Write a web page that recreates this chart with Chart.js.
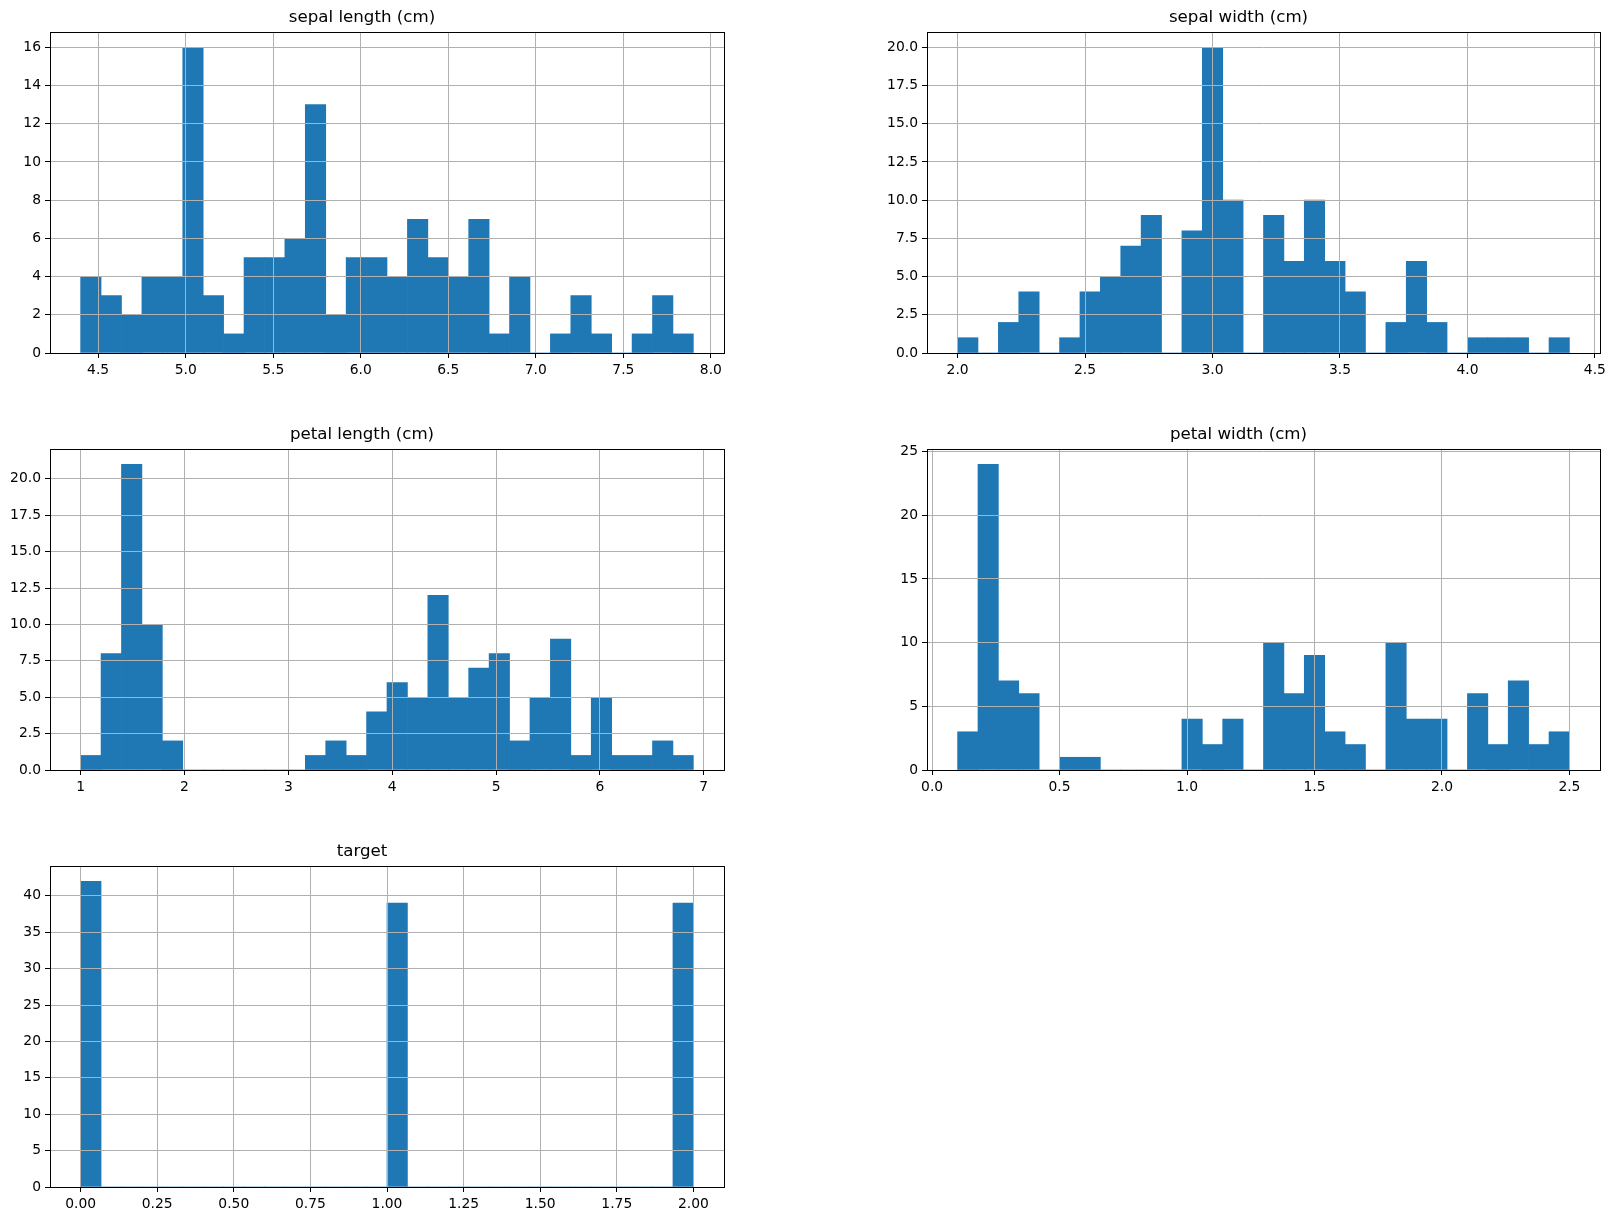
<!DOCTYPE html>
<html>
<head>
<meta charset="utf-8">
<script src="https://cdn.jsdelivr.net/npm/chart.js@4.4.0/dist/chart.umd.min.js"></script>
<style>
html,body{margin:0;padding:0;background:#fff;}
body{width:1616px;height:1221px;position:relative;overflow:hidden;}
canvas{position:absolute;}
</style>
</head>
<body>
<canvas id="c0"></canvas>
<canvas id="c1"></canvas>
<canvas id="c2"></canvas>
<canvas id="c3"></canvas>
<canvas id="c4"></canvas>
<script>
// ---- data (30 bins each, counts) ----
const sepalLengthRange = [4.4, 7.9];
const sepalLengthCounts = [4,3,2,4,4,16,3,1,5,5,6,13,2,5,5,4,7,5,4,7,1,4,0,1,3,1,0,1,3,1];
const sepalLengthXTicks = [4.5,5.0,5.5,6.0,6.5,7.0,7.5,8.0];
const sepalLengthYTicks = [0,2,4,6,8,10,12,14,16];

const sepalWidthRange = [2.0, 4.4];
const sepalWidthCounts = [1,0,2,4,0,1,4,5,7,9,0,8,20,10,0,9,6,10,6,4,0,2,6,2,0,1,1,1,0,1];
const sepalWidthXTicks = [2.0,2.5,3.0,3.5,4.0,4.5];
const sepalWidthYTicks = [0,2.5,5,7.5,10,12.5,15,17.5,20];

const petalLengthRange = [1.0, 6.9];
const petalLengthCounts = [1,8,21,10,2,0,0,0,0,0,0,1,2,1,4,6,5,12,5,7,8,2,5,9,1,5,1,1,2,1];
const petalLengthXTicks = [1,2,3,4,5,6,7];
const petalLengthYTicks = [0,2.5,5,7.5,10,12.5,15,17.5,20];

const petalWidthRange = [0.1, 2.5];
const petalWidthCounts = [3,24,7,6,0,1,1,0,0,0,0,4,2,4,0,10,6,9,3,2,0,10,4,4,0,6,2,7,2,3];
const petalWidthXTicks = [0.0,0.5,1.0,1.5,2.0,2.5];
const petalWidthYTicks = [0,5,10,15,20,25];

const targetRange = [0, 2];
const targetCounts = [42,0,0,0,0,0,0,0,0,0,0,0,0,0,0,39,0,0,0,0,0,0,0,0,0,0,0,0,0,39];
const targetXTicks = [0,0.25,0.5,0.75,1.0,1.25,1.5,1.75,2.0];
const targetYTicks = [0,5,10,15,20,25,30,35,40];

const titles = ['sepal length (cm)','sepal width (cm)','petal length (cm)','petal width (cm)','target'];

// ---- layout ----
const FONT = "'DejaVu Sans', sans-serif";
const Y_AXIS_W = 50, SIDE_PAD = 50, TITLE_H = 40, X_AXIS_H = 40;
const BAR_COLOR = '#1f77b4';

const panels = [
  {id:'c0', title:titles[0], range:sepalLengthRange, counts:sepalLengthCounts, xTicks:sepalLengthXTicks, yTicks:sepalLengthYTicks, xDec:1, yDec:0, left:50, top:32, w:674, h:321},
  {id:'c1', title:titles[1], range:sepalWidthRange, counts:sepalWidthCounts, xTicks:sepalWidthXTicks, yTicks:sepalWidthYTicks, xDec:1, yDec:1, left:927, top:32, w:673, h:321},
  {id:'c2', title:titles[2], range:petalLengthRange, counts:petalLengthCounts, xTicks:petalLengthXTicks, yTicks:petalLengthYTicks, xDec:0, yDec:1, left:50, top:449, w:674, h:321},
  {id:'c3', title:titles[3], range:petalWidthRange, counts:petalWidthCounts, xTicks:petalWidthXTicks, yTicks:petalWidthYTicks, xDec:1, yDec:0, left:927, top:449, w:673, h:321},
  {id:'c4', title:titles[4], range:targetRange, counts:targetCounts, xTicks:targetXTicks, yTicks:targetYTicks, xDec:2, yDec:0, left:50, top:866, w:674, h:321}
];

const framePlugin = {
  id: 'frame',
  afterDraw(chart) {
    const a = chart.chartArea, ctx = chart.ctx;
    ctx.save();
    ctx.strokeStyle = '#000';
    ctx.lineWidth = 1;
    const l = Math.round(a.left) + 0.5, t = Math.round(a.top) + 0.5;
    const r = Math.round(a.right) + 0.5, b = Math.round(a.bottom) + 0.5;
    ctx.strokeRect(l, t, r - l, b - t);
    ctx.restore();
  }
};

function gridOpts() {
  return {display:true, color:'#b0b0b0', lineWidth:1, z:1, drawTicks:true, tickLength:5, tickColor:'#000', tickWidth:1, offset:false};
}

function makeChart(p) {
  const canvas = document.getElementById(p.id);
  const W = Y_AXIS_W + p.w + SIDE_PAD, H = TITLE_H + p.h + X_AXIS_H;
  canvas.width = W; canvas.height = H;
  canvas.style.width = W + 'px'; canvas.style.height = H + 'px';
  canvas.style.left = (p.left - Y_AXIS_W) + 'px';
  canvas.style.top = (p.top - TITLE_H) + 'px';
  const lo = p.range[0], hi = p.range[1];
  const bw = (hi - lo) / p.counts.length;
  const data = p.counts.map((c, i) => ({x: lo + (i + 0.5) * bw, y: c}));
  const margin = 0.05 * (hi - lo);
  const ymax = 1.05 * Math.max(...p.counts);
  new Chart(canvas, {
    type: 'bar',
    data: {datasets: [{label: p.title, data, backgroundColor: BAR_COLOR, borderWidth: 0, barPercentage: 1, categoryPercentage: 1}]},
    options: {
      responsive: false, animation: false, devicePixelRatio: 1,
      layout: {padding: {left: 0, right: SIDE_PAD, top: 0, bottom: 0}},
      plugins: {
        legend: {display: false}, tooltip: {enabled: false},
        title: {display: true, text: p.title, color: '#000', font: {family: FONT, size: 16.67, weight: 'normal', lineHeight: 1.2}, padding: {top: 16, bottom: 4}}
      },
      scales: {
        x: {
          type: 'linear', min: lo - margin, max: hi + margin, offset: false, bounds: 'data',
          afterBuildTicks: s => { s.ticks = p.xTicks.map(v => ({value: v})); },
          afterFit: s => { s.height = X_AXIS_H; },
          grid: gridOpts(), border: {display: false},
          ticks: {autoSkip: false, maxRotation: 0, minRotation: 0, padding: 4, color: '#000', font: {family: FONT, size: 13.89}, callback: v => Number(v).toFixed(p.xDec)}
        },
        y: {
          type: 'linear', min: 0, max: ymax, bounds: 'data',
          afterBuildTicks: s => { s.ticks = p.yTicks.map(v => ({value: v})); },
          afterFit: s => { s.width = Y_AXIS_W; },
          grid: gridOpts(), border: {display: false},
          ticks: {autoSkip: false, padding: 4, color: '#000', font: {family: FONT, size: 13.89}, callback: v => Number(v).toFixed(p.yDec)}
        }
      }
    },
    plugins: [framePlugin]
  });
}

panels.forEach(makeChart);
</script>
</body>
</html>
